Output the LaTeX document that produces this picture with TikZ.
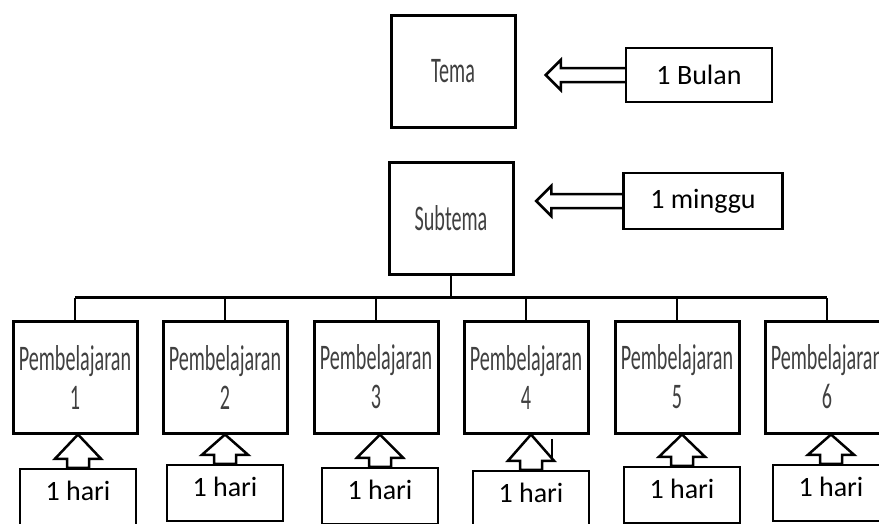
\documentclass[tikz,border=0pt]{standalone}
\usepackage{fontspec}
\setmainfont{Carlito}
\newfontfamily\narrowfont[FakeStretch=0.56]{Carlito}
\usetikzlibrary{calc}

\begin{document}
\begin{tikzpicture}[x=1pt,y=-1pt,
    topic/.style={draw,line width=3pt,minimum width=124pt,minimum height=112pt,inner sep=0pt,
        align=center,text=black!75,font=\narrowfont\fontsize{36}{39}\selectfont},
    note/.style={draw,line width=2.5pt,minimum height=54pt,inner sep=0pt,font=\fontsize{28}{34}\selectfont},
    fat/.style={line width=2.5pt,line join=miter},
    link/.style={line width=2.2pt}]
    \clip (0,0) rectangle (879,523);

    \node [topic] (tema) at (453,71) {Tema};
    \node [topic] (subtema) at (451,218) {Subtema};
    \node [note, minimum width=146pt] (bulan) at (699,75) {1 Bulan};
    \node [note, minimum width=159pt, minimum height=56pt] (minggu) at (703,201) {1 minggu};

    % hollow arrows pointing left to the boxes
    \foreach \n/\len in {bulan/64, minggu/71}
        \draw [fat] ($(\n.west)+(0,-7)$) -- ++(-\len,0) -- ++(0,-8) -- ++(-15,15)
            -- ++(15,15) -- ++(0,-8) -- ($(\n.west)+(0,7)$);

    \coordinate (bus) at ($(subtema.south)+(0,22)$);
    \draw [link] (subtema.south) -- (bus);

    \foreach \i/\px/\hx/\hy in {1/75/78/469, 2/225/225/465, 3/376/380/468,
                                4/526/531/471, 5/677/682/467, 6/827/831/465} {
        \node [topic] (p\i) at (\px,377) {Pembelajaran\\\i};
        \node [note, minimum width=116pt, minimum height=56pt, text depth=12pt] (h\i) at (\hx,\hy+28) {1 hari};
        \draw [link] (p\i.north) -- (p\i.north |- bus);
        % hollow arrow pointing up
        \draw [fat] (h\i.north |- p\i.south) -- ($(h\i.north)+(-23,-9)$) -- ($(h\i.north)+(-11,-9)$)
            -- ($(h\i.north)+(-11,0)$) -- ($(h\i.north)+(11,0)$) -- ($(h\i.north)+(11,-9)$)
            -- ($(h\i.north)+(23,-9)$) -- cycle;
    }
    \draw [link] (p1.north |- bus) -- (p6.north |- bus);

    \draw [line width=1.5pt] ($(h4.north)+(21,-31)$) -- ++(0,22);
\end{tikzpicture}
\end{document}
